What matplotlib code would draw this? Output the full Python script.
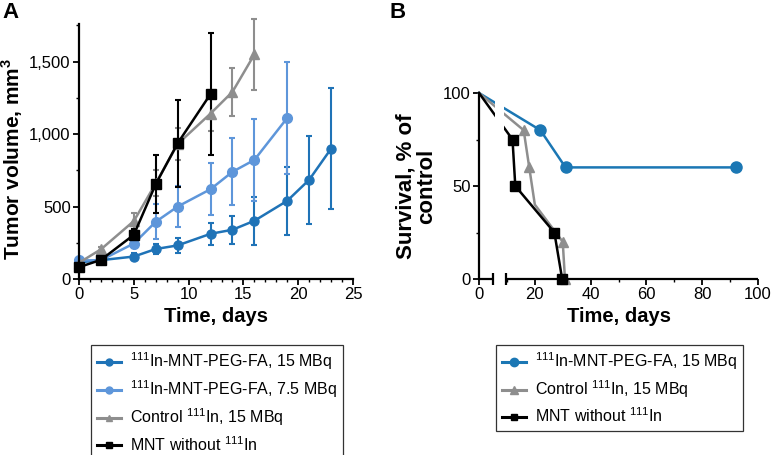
import matplotlib as mpl
import numpy as np
from matplotlib import pyplot as plt
from matplotlib.lines import Line2D
from matplotlib.ticker import FuncFormatter, MultipleLocator
from matplotlib.patches import Rectangle

plt.rcParams["font.family"] = ["Liberation Sans", "DejaVu Sans"]
plt.rcParams["mathtext.fontset"] = "custom"
plt.rcParams["mathtext.rm"] = "Liberation Sans"
plt.rcParams["mathtext.bf"] = "Liberation Sans:bold"

# panel A: tumour volume (mm3) vs time (days)
days_15 = [0, 2, 5, 7, 9, 12, 14, 16, 19, 21, 23]
vol_15 = [115, 130, 155, 207, 232, 312, 340, 402, 540, 685, 900]
err_15 = [15, 20, 25, 35, 50, 77, 95, 165, 236, 303, 420]

days_75 = [0, 2, 5, 7, 9, 12, 14, 16, 19]
vol_75 = [128, 130, 245, 395, 500, 620, 740, 822, 1112]
err_75 = [15, 20, 30, 120, 142, 180, 230, 285, 388]

days_ctrl = [0, 2, 5, 7, 9, 12, 14, 16]
vol_ctrl = [112, 205, 400, 660, 932, 1142, 1292, 1550]
err_ctrl = [15, 15, 55, 90, 110, 120, 165, 248]

days_mnt = [0, 2, 5, 7, 9, 12]
vol_mnt = [82, 132, 305, 655, 937, 1277]
err_mnt = [15, 20, 40, 200, 300, 420]

# panel B: survival (% of control) vs time (days)
surv_t_15 = [0, 22, 31, 92]
surv_15 = [100, 80, 60, 60]
surv_t_ctrl = [0, 16, 18, 20, 30, 30.8]
surv_ctrl = [100, 80, 60, 40, 20, 0]
surv_t_mnt = [0, 12, 13, 27, 29.8]
surv_mnt = [100, 75, 50, 25, 0]

dark_blue = "#1f73b7"
light_blue = "#5e96da"
gray = "#8e8e8e"
black = "#000000"
b_blue = "#1b77b4"

labels_a = [
    r"$^{111}$In-MNT-PEG-FA, 15 MBq",
    r"$^{111}$In-MNT-PEG-FA, 7.5 MBq",
    r"Control $^{111}$In, 15 MBq",
    r"MNT without $^{111}$In",
]

fig = plt.figure(figsize=(7.71, 4.55), dpi=100)
ax_a = fig.add_axes([0.1025, 0.3868, 0.3554, 0.5604])
ax_b = fig.add_axes([0.6213, 0.3868, 0.3619, 0.4088])

eb = dict(lw=1.8, elinewidth=1.5, capsize=2.5, capthick=1.5, clip_on=False)
series = [
    (days_15, vol_15, err_15, dark_blue, "o", 6.5),
    (days_75, vol_75, err_75, light_blue, "o", 7),
    (days_ctrl, vol_ctrl, err_ctrl, gray, "^", 7),
    (days_mnt, vol_mnt, err_mnt, black, "s", 7),
]
handles_a = []
for (t, v, e, c, m, ms), lab in zip(series, labels_a):
    h = ax_a.errorbar(t, v, yerr=e, color=c, marker=m, ms=ms, **eb)
    for art in h.lines[2]:
        art.set_clip_on(False)
    handles_a.append(Line2D([], [], color=c, marker=m, ms=5, lw=2.2))

ax_a.set_xlim(0, 25)
ax_a.set_ylim(0, 1760)
ax_a.xaxis.set_major_locator(MultipleLocator(5))
ax_a.xaxis.set_minor_locator(MultipleLocator(1))
ax_a.yaxis.set_major_locator(MultipleLocator(500))
ax_a.yaxis.set_minor_locator(MultipleLocator(250))
ax_a.yaxis.set_major_formatter(FuncFormatter(lambda v, p: f"{v:,.0f}"))
ax_a.set_xlabel("Time, days", fontsize=14.5, fontweight="bold", labelpad=3)
ax_a.set_ylabel(r"Tumor volume, mm$^\mathbf{3}$", fontsize=15,
                fontweight="bold")
ax_a.yaxis.set_label_coords(-0.197, 0.47)

# panel B
ax_b.plot(surv_t_15, surv_15, color=b_blue, marker="o", ms=8, lw=1.8,
          clip_on=False, markevery=[1, 2, 3])
ax_b.plot(surv_t_ctrl, surv_ctrl, color=gray, marker="^", ms=7, lw=1.8,
          clip_on=False, markevery=[1, 2, 4, 5])
ax_b.plot(surv_t_mnt, surv_mnt, color=black, marker="s", ms=6.5, lw=1.8,
          clip_on=False, markevery=[1, 2, 3, 4])
ax_b.add_patch(Rectangle((5.8, 3), 3.0, 94, facecolor="white",
                         edgecolor="none", zorder=2.2))
ax_b.set_xlim(0, 100)
ax_b.set_ylim(0, 100)
ax_b.xaxis.set_major_locator(MultipleLocator(20))
ax_b.xaxis.set_minor_locator(MultipleLocator(10))
ax_b.yaxis.set_major_locator(MultipleLocator(50))
ax_b.yaxis.set_minor_locator(MultipleLocator(25))
ax_b.set_xlabel("Time, days", fontsize=14.5, fontweight="bold", labelpad=3)
ax_b.set_ylabel("Survival, % of\ncontrol", fontsize=16, fontweight="bold",
                labelpad=4, linespacing=1.0)

# broken x axis in panel B
ax_b.spines["bottom"].set_visible(False)
ax_b.plot([0, 5], [0, 0], color="black", lw=1.6, clip_on=False, zorder=3,
          solid_capstyle="butt")
ax_b.plot([9.8, 100], [0, 0], color="black", lw=1.6, clip_on=False, zorder=3,
          solid_capstyle="butt")
ax_b.plot([5, 9.8], [0, 0], ls="none", marker="|", ms=8, mew=1.6,
          color="black", clip_on=False, zorder=3)

for ax in (ax_a, ax_b):
    for s in ("top", "right"):
        ax.spines[s].set_visible(False)
    for s in ("left", "bottom"):
        ax.spines[s].set_linewidth(1.6)
    ax.tick_params(which="major", direction="out", length=4, width=1.3,
                   labelsize=12, pad=2)
    ax.tick_params(which="minor", direction="out", length=2.5, width=1.0)

fig.text(0.003, 0.995, "A", fontsize=16, fontweight="bold", va="top")
fig.text(0.505, 0.995, "B", fontsize=16, fontweight="bold", va="top")

leg_kw = dict(loc="upper center", fontsize=11.5, frameon=True, fancybox=False,
              edgecolor="black", handlelength=1.5, labelspacing=0.4,
              borderpad=0.35, handletextpad=0.6, borderaxespad=0)
la = fig.legend(handles=handles_a, labels=labels_a,
                bbox_to_anchor=(0.2815, 0.2418), **leg_kw)
la.get_frame().set_linewidth(0.9)
handles_b = [
    Line2D([], [], color=b_blue, marker="o", ms=6, lw=2.2),
    Line2D([], [], color=gray, marker="^", ms=6, lw=2.2),
    Line2D([], [], color=black, marker="s", ms=5, lw=2.2),
]
lgb = fig.legend(handles_b, [labels_a[0], labels_a[2], labels_a[3]],
                 bbox_to_anchor=(0.804, 0.2418), **leg_kw)
lgb.get_frame().set_linewidth(0.9)

fig.savefig("out.png", dpi=100)
